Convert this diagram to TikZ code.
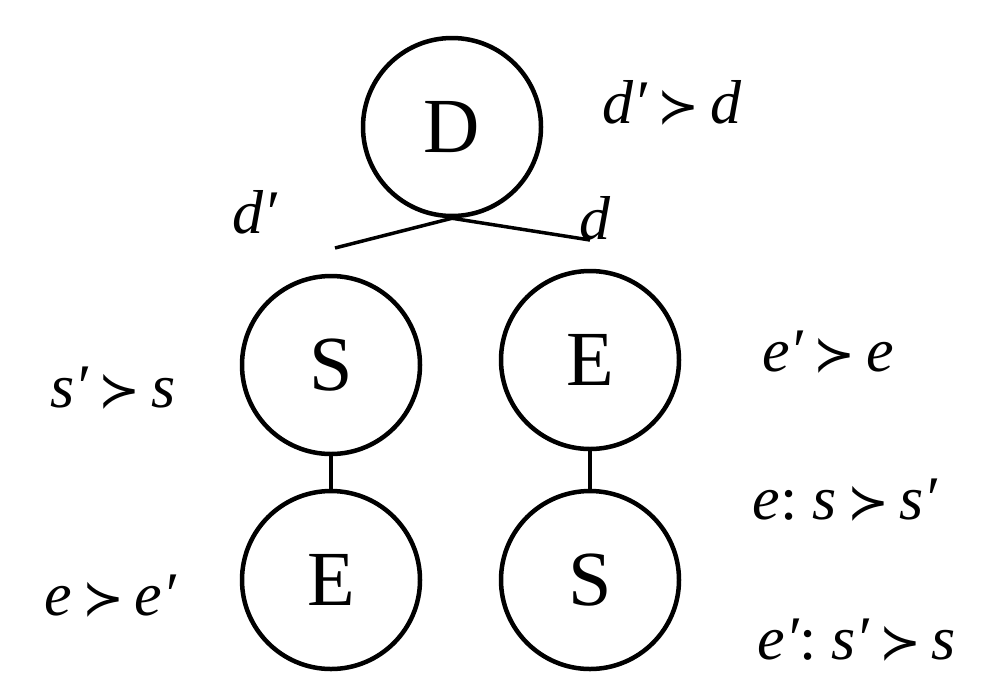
\documentclass[tikz,border=0pt]{standalone}
\usepackage{fontspec}
\setmainfont{Liberation Serif}
\newfontfamily\symf{DejaVu Sans}
\newcommand{\mysc}{\,{\symf\fontsize{50}{60}\selectfont ≻}\,}
\newcommand{\mypr}{′}
\begin{document}
\begin{tikzpicture}[x=1pt,y=-1pt,
  st/.style={circle,draw,line width=4.5pt,minimum size=178pt,inner sep=0pt,font=\fontsize{78}{80}\selectfont},
  lb/.style={font=\fontsize{62}{64}\selectfont\itshape,inner sep=0pt}]
\useasboundingbox (0,0) rectangle (1008,686);
\node[st] (D) at (452,127) {D};
\node[st] (S1) at (331,365) {S};
\node[st] (E1) at (590,360) {E};
\node[st] (E2) at (331,580) {E};
\node[st] (S2) at (590,580) {S};
\coordinate (dl) at (335,248);
\coordinate (dr) at (590,240);
\draw[line width=3.5pt] (D.south) -- (dl);
\draw[line width=3.5pt] (D.south) -- (dr);
\draw[line width=3.5pt] (S1.south) -- (E2.north);
\draw[line width=3.5pt] (E1.south) -- (S2.north);
\node[lb] (l1) at (672,103) {d\mypr\mysc d};
\node[lb] (l2) at (255,212) {d\mypr};
\node[lb] (l3) at (595,218) {d};
\node[lb] (l4) at (113,388) {s\mypr\mysc s};
\node[lb] (l5) at (828,352) {e\mypr\mysc e};
\node[lb] (l6) at (845,500) {e\upshape:\itshape\ s\mysc s\mypr};
\node[lb] (l7) at (110,596) {e\mysc e\mypr};
\node[lb] (l8) at (857,640) {e\mypr\upshape:\itshape\ s\mypr\mysc s};
\end{tikzpicture}
\end{document}
